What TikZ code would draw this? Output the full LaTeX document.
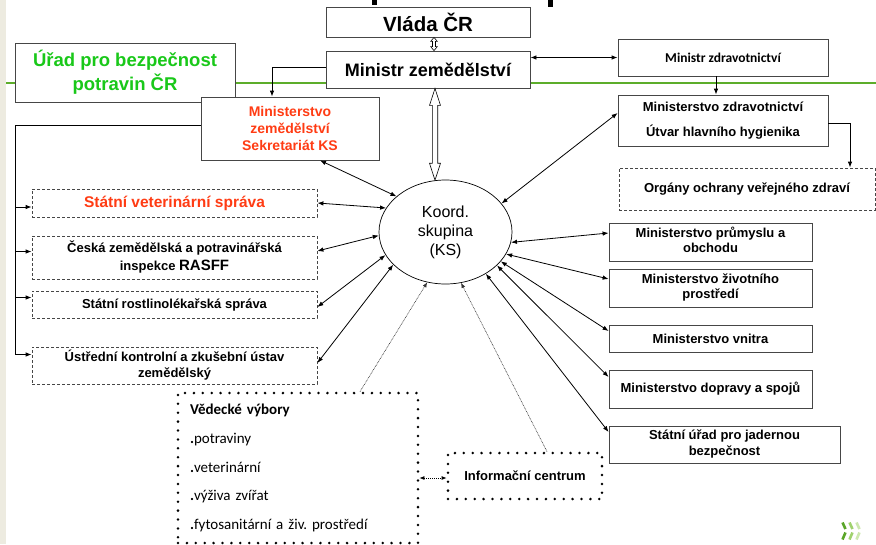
\documentclass[tikz,border=0pt]{standalone}
\usepackage{fontspec}
\setmainfont{Liberation Sans}
\newfontfamily\calfont{Carlito}
\usetikzlibrary{arrows.meta,calc,shapes.geometric}
\definecolor{gline}{RGB}{92,173,42}
\definecolor{gtext}{RGB}{25,200,25}
\definecolor{rtext}{RGB}{255,60,20}
\definecolor{bord}{RGB}{70,70,70}
\definecolor{beige}{RGB}{237,235,224}
\definecolor{chA}{RGB}{90,165,40}
\definecolor{chB}{RGB}{160,210,110}
\definecolor{chC}{RGB}{205,232,175}
\frenchspacing
\newcommand{\twolines}[2]{\raisebox{-3pt}{\begin{tabular}{@{}c@{}}#1\\#2\end{tabular}}}
\begin{document}
\begin{tikzpicture}[x=1pt,y=-1pt,
  >={Latex[length=6pt,width=4.5pt]},
  box/.style={draw=bord, line width=0.8pt, fill=white, inner sep=0pt, align=center},
  dbox/.style={box, dash pattern=on 3pt off 2pt},
  pbox/.style={draw=black, line width=2.8pt, dash pattern=on 0pt off 8.9pt, line cap=round, fill=white, inner sep=0pt},
  conn/.style={line width=0.8pt, black},
  dotconn/.style={line width=0.6pt, black!80, dash pattern=on 0.8pt off 0.8pt},
  hollow/.style={draw=black, line width=0.6pt, fill=white},
  f13/.style={font=\bfseries\fontsize{13}{15}\selectfont}
]
\useasboundingbox (0,0) rectangle (876,544);
\fill[white] (0,0) rectangle (876,544);
\fill[beige] (0,0) rectangle (6,544);
\draw[gline, line width=2pt] (6,82.5) -- (876,82.5);

% title remnants
\fill[black] (372,0) rectangle (377,4.5);
\fill[black] (548,0) rectangle (553,7);

% top
\node[box, minimum width=204, minimum height=30, font=\bfseries\fontsize{20.5}{24}\selectfont] (vlada) at (428,22) {Vláda ČR};
\node[box, minimum width=204, minimum height=37, font=\bfseries\fontsize{18}{22}\selectfont] (mz) at (428,69.5) {Ministr zemědělství};
\node[box, minimum width=220, minimum height=59, text=gtext, font=\bfseries\fontsize{18.5}{24}\selectfont] (urad) at (125,72.5) {Úřad pro bezpečnost\\potravin ČR};
\node[box, minimum width=178, minimum height=63, text=rtext, font=\bfseries\fontsize{14}{17}\selectfont] (sekr) at (290,128.5) {Ministerstvo\\zemědělství\\Sekretariát KS};

% left dashed boxes
\node[dbox, minimum width=285, minimum height=28, text=rtext, font=\bfseries\fontsize{15.5}{18}\selectfont] (svs) at (174.5,203) {Státní veterinární správa};
\node[dbox, minimum width=285, minimum height=43, font=\bfseries\fontsize{13}{18}\selectfont] (czpi) at (174.5,257.5) {Česká zemědělská a potravinářská\\inspekce {\fontsize{15}{18}\selectfont RASFF}};
\node[dbox, minimum width=285, minimum height=27, f13] (srs) at (174.5,304.5) {Státní rostlinolékařská správa};
\node[dbox, minimum width=285, minimum height=37, font=\bfseries\fontsize{13}{16}\selectfont] (ukzus) at (174.5,365.5) {Ústřední kontrolní a zkušební ústav\\zemědělský};

% ellipse
\node[draw=black, line width=0.7pt, ellipse, fill=white, minimum width=133, minimum height=104, inner sep=0pt, align=center, font=\fontsize{16}{19}\selectfont] (ks) at (445.5,232) {Koord.\\skupina\\(KS)};

% right
\node[box, minimum width=210, minimum height=37, font=\calfont\bfseries\fontsize{13.5}{16}\selectfont] (mzdr) at (723,57.5) {Ministr zdravotnictví};
\node[box, minimum width=210, minimum height=51, font=\bfseries\fontsize{13}{25}\selectfont] (mzdrav) at (723,120.5) {Ministerstvo zdravotnictví\\Útvar hlavního hygienika};
\node[dbox, minimum width=256, minimum height=42, f13] (organy) at (747,189) {Orgány ochrany veřejného zdraví};
\node[box, minimum width=203, minimum height=38, f13] (mpo) at (710.5,242) {\twolines{Ministerstvo průmyslu a}{obchodu}};
\node[box, minimum width=203, minimum height=38, f13] (mzp) at (710.5,288) {\twolines{Ministerstvo životního}{prostředí}};
\node[box, minimum width=203, minimum height=27, f13] (mv) at (710.5,338.5) {Ministerstvo vnitra};
\node[box, minimum width=203, minimum height=38, f13] (mds) at (710.5,389) {\raisebox{4pt}{Ministerstvo dopravy a spojů}};
\node[box, minimum width=231, minimum height=37, font=\bfseries\fontsize{13}{16}\selectfont] (sujb) at (724.5,444.5) {\twolines{Státní úřad pro jadernou}{bezpečnost}};

% bottom dotted boxes
\node[pbox, minimum width=240, minimum height=150, inner xsep=12pt, text width=216pt, align=left, font=\calfont\fontsize{15}{28.75}\selectfont] (vv) at (298,468) {\textbf{Vědecké výbory}\\\textbf{.}potraviny\\\textbf{.}veterinární\\\textbf{.}výživa zvířat\\\textbf{.}fytosanitární a živ. prostředí};
\node[pbox, minimum width=154, minimum height=46, f13] (ic) at (525,476) {Informační centrum};

% hollow double arrows
\coordinate (st) at ($(vlada.south)+(6,0)$);
\coordinate (sb) at ($(mz.north)+(6,0)$);
\draw[hollow] (st) -- ($(st)+(3.3,4)$) -- ($(st)+(1.5,4)$) -- ($(sb)+(1.5,-4)$) -- ($(sb)+(3.3,-4)$) -- (sb) -- ($(sb)+(-3.3,-4)$) -- ($(sb)+(-1.5,-4)$) -- ($(st)+(-1.5,4)$) -- ($(st)+(-3.3,4)$) -- cycle;
\coordinate (ht) at ($(mz.south)+(7,0)$);
\coordinate (hb) at ($(ks.north)+(-10.5,0.6)$);
\draw[hollow] (ht) -- ($(ht)+(5.5,17)$) -- ($(ht)+(2.7,17)$) -- ($(hb)+(2.7,-17)$) -- ($(hb)+(5.5,-17)$) -- (hb) -- ($(hb)+(-5.5,-17)$) -- ($(hb)+(-2.7,-17)$) -- ($(ht)+(-2.7,17)$) -- ($(ht)+(-5.5,17)$) -- cycle;

% connectors top
\draw[conn,->] ([yshift=2.5pt]mz.west) -| ([xshift=-18pt]sekr.north);
\draw[conn,<->] (mzdr.west -| mz.east) -- (mzdr.west);
\draw[conn,->] ([xshift=-7pt]mzdr.south) -- ([xshift=-7pt]mzdrav.north);
\draw[conn,->] ([yshift=-2.5pt]mzdrav.east) -| ([xshift=103pt]organy.north);

% left trunk
\coordinate (lt) at (15,0);
\coordinate (lb) at ([yshift=11pt]ukzus.west -| lt);
\draw[conn] ([yshift=3.5pt]sekr.west) -- ([yshift=3.5pt]sekr.west -| lt) -- (lb);
\draw[conn,->] ([yshift=-4pt]svs.west -| lt) -- ([yshift=-4pt]svs.west);
\draw[conn,->] ([yshift=6pt]czpi.west -| lt) -- ([yshift=6pt]czpi.west);
\draw[conn,->] ([yshift=7pt]srs.west -| lt) -- ([yshift=7pt]srs.west);
\draw[conn,->] (lb) -- ([yshift=11pt]ukzus.west);

% to ellipse
\draw[conn,<->] ([xshift=30pt]sekr.south) -- (ks.144);
\draw[conn,<->] (svs.east) -- (ks.158);
\draw[conn,<->] ([yshift=6.5pt]czpi.east) -- (ks.183);
\draw[conn,<->] ([yshift=-2.5pt]srs.east) -- (ks.201.5);
\draw[conn,<->] ([yshift=2.5pt]ukzus.east) -- (ks.212);
\draw[conn,<->] ([yshift=7.5pt]mzdrav.west) -- (ks.27.5);
\draw[conn,<->] ([yshift=9pt]mpo.west) -- (ks.351.6);
\draw[conn,<->] ([yshift=9pt]mzp.west) -- (ks.340.6);
\draw[conn,<->] ([yshift=7.5pt]mv.west) -- (ks.332.4);
\draw[conn,<->] ([yshift=12pt]mds.west) -- (ks.327.4);
\draw[conn,<->] ([yshift=12.5pt]sujb.west) -- (ks.314);
\draw[dotconn,-{Latex[length=5pt,width=4pt]}] ([xshift=62pt]vv.north) -- (ks.250.7);
\draw[dotconn,-{Latex[length=5pt,width=4pt]}] ([xshift=22pt]ic.north) -- (ks.287);
\draw[line width=0.8pt, black, dash pattern=on 1pt off 1pt, {Latex[length=5pt,width=4pt]}-{Latex[length=5pt,width=4pt]}] ([yshift=-2pt]ic.west -| vv.east) -- ([yshift=-2pt]ic.west);

% chevrons
\foreach \i/\c in {0/chA,1/chB,2/chC}{
  \draw[\c, line width=2.6pt] (842.5+7*\i,522.5) -- (845.5+7*\i,529);
  \draw[\c, line width=2.6pt] (845.5+7*\i,532.5) -- (842.5+7*\i,539.5);
}
\end{tikzpicture}
\end{document}
